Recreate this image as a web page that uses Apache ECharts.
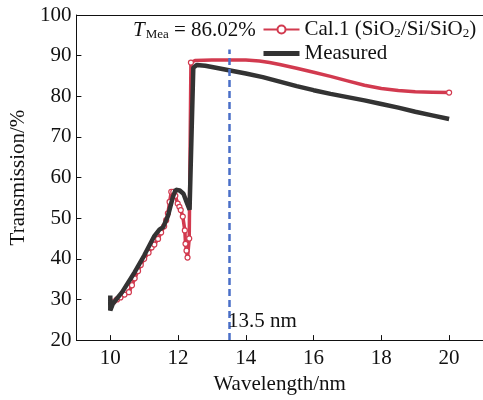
<!DOCTYPE html>
<html>
<head>
<meta charset="utf-8">
<script src="https://cdn.jsdelivr.net/npm/echarts@6/dist/echarts.min.js"></script>
<style>html,body{margin:0;padding:0;background:#fff;}#c{width:483px;height:400px;}</style>
</head>
<body>
<div id="c"></div>
<script>
// Measured series
var measuredX = [10, 10, 10.08, 10.35, 10.72, 11.0, 11.3, 11.45, 11.56, 11.7, 11.85, 11.93, 12.05, 12.16, 12.25, 12.34, 12.45, 12.55, 12.8, 13, 13.5, 14, 14.5, 15, 15.5, 16, 16.5, 17, 17.5, 18, 18.5, 19, 19.5, 20];
var measuredY = [31, 27.3, 29, 31.8, 36.7, 40.8, 45.6, 47.2, 47.8, 50.5, 55.3, 57, 56.8, 56, 54, 52.1, 87, 87.7, 87.5, 87.2, 86.4, 85.6, 84.7, 83.6, 82.5, 81.5, 80.6, 79.8, 79, 78.1, 77.2, 76.2, 75.3, 74.4];
// Cal.1 series
var calX = [10.1, 10.2, 10.3, 10.42, 10.55, 10.64, 10.72, 10.82, 10.9, 11.0, 11.13, 11.22, 11.3, 11.41, 11.5, 11.59, 11.65, 11.7, 11.75, 11.8, 11.86, 11.92, 11.99, 12.04, 12.08, 12.14, 12.2, 12.22, 12.25, 12.28, 12.33, 12.38, 12.5, 13, 13.5, 14, 14.4, 14.7, 15, 15.5, 16, 16.5, 17, 17.5, 18, 18.5, 19, 19.5, 20];
var calY = [29.5, 30.0, 30.5, 31.2, 31.8, 33.5, 35.2, 37.0, 38.5, 40.0, 41.5, 42.8, 43.5, 44.9, 46.5, 48.0, 49.5, 51.2, 54.0, 56.5, 56.5, 55.5, 53.6, 52.8, 52.0, 50.4, 47.0, 43.7, 42.0, 40.3, 45.0, 88.3, 88.8, 88.9, 88.9, 88.9, 88.7, 88.3, 87.8, 86.9, 85.9, 84.9, 83.8, 82.7, 81.9, 81.4, 81.1, 81.0, 80.9];
// wavelengths beyond which the Cal.1 circle markers merge into the line (only the last one is visible)
var calMarkerCutoff = 12.4;
// axes
var xTicks = [10, 12, 14, 16, 18, 20];
var markWavelength = 13.5;
var meanLabel = '86.02%';

function pairs(xs, ys) { return xs.map(function (x, i) { return [x, ys[i]]; }); }
function calData() {
  return calX.map(function (x, i) {
    var hide = x > calMarkerCutoff && i !== calX.length - 1;
    return hide ? { value: [x, calY[i]], symbol: 'none' } : { value: [x, calY[i]] };
  });
}

var FONT = '"Liberation Serif", "Times New Roman", serif';
var chart = echarts.init(document.getElementById('c'), null, { renderer: 'canvas' });
chart.setOption({
  animation: false,
  backgroundColor: '#fff',
  textStyle: { fontFamily: FONT, color: '#111' },
  grid: { left: 68, right: 0, top: 15, bottom: 54, containLabel: false },
  xAxis: [{
    type: 'value', min: 9, max: 21,
    name: 'Wavelength/nm', nameLocation: 'middle', nameGap: 32,
    nameTextStyle: { fontFamily: FONT, fontSize: 21, color: '#111' },
    axisLine: { show: true, onZero: false, lineStyle: { color: '#111', width: 1 } },
    axisTick: { show: true, inside: true, length: 5, customValues: xTicks, lineStyle: { color: '#111' } },
    axisLabel: { customValues: xTicks, fontFamily: FONT, fontSize: 21, color: '#111', margin: 8 },
    splitLine: { show: false }
  }, {
    type: 'value', min: 9, max: 21, position: 'top',
    axisLine: { show: true, onZero: false, lineStyle: { color: '#111', width: 1 } },
    axisTick: { show: false }, axisLabel: { show: false }, splitLine: { show: false }
  }],
  yAxis: {
    type: 'value', min: 20, max: 100, interval: 10,
    name: 'Transmission/%', nameLocation: 'middle', nameGap: 35,
    nameTextStyle: { fontFamily: FONT, fontSize: 21, color: '#111' },
    axisLine: { show: true, onZero: false, lineStyle: { color: '#111', width: 1 } },
    axisTick: { show: true, inside: true, length: 5, lineStyle: { color: '#111' } },
    axisLabel: { fontFamily: FONT, fontSize: 21, color: '#111', margin: 5 },
    splitLine: { show: false }
  },
  legend: {
    orient: 'vertical', left: 256, top: 14, itemGap: 3, itemWidth: 36, itemHeight: 10,
    data: [
      { name: 'Cal.1' },
      { name: 'Measured', itemStyle: { opacity: 0 }, lineStyle: { width: 5, color: '#333' } }
    ],
    formatter: function (n) { return n === 'Cal.1' ? 'Cal.1 (SiO{s|2}/Si/SiO{s|2})' : n; },
    textStyle: {
      fontFamily: FONT, fontSize: 21, color: '#111', lineHeight: 21, padding: [0, 0, 0, 0],
      rich: { s: { fontFamily: FONT, fontSize: 13, verticalAlign: 'bottom', lineHeight: 21, padding: [8, 0, 0, 0] } }
    }
  },
  graphic: [
    { type: 'text', left: 133, top: 20, z: 10, style: {
      text: '{t|T}{m|Mea}{v| = ' + meanLabel + '}',
      rich: {
        t: { fontFamily: FONT, fontStyle: 'italic', fontSize: 21, fill: '#111', lineHeight: 22 },
        m: { fontFamily: FONT, fontSize: 13, fill: '#111', lineHeight: 22, verticalAlign: 'bottom', padding: [8, 0, 0, 1] },
        v: { fontFamily: FONT, fontSize: 21, fill: '#111', lineHeight: 22 }
      }
    } },
    { type: 'text', left: 228, top: 311, z: 10, style: { text: markWavelength + ' nm', fontFamily: FONT, fontSize: 21, fill: '#111' } }
  ],
  series: [{
    name: 'Cal.1', type: 'line', data: calData(),
    symbol: 'circle', symbolSize: 5, showSymbol: true,
    lineStyle: { color: '#d23a4f', width: 3.5 },
    itemStyle: { color: '#fff', borderColor: '#d23a4f', borderWidth: 1.2 },
    z: 2
  }, {
    name: 'Measured', type: 'line', data: pairs(measuredX, measuredY),
    symbol: 'none', lineStyle: { color: '#333', width: 4.5 }, itemStyle: { color: '#333' },
    z: 3,
    markLine: {
      silent: true, symbol: ['none', 'none'], label: { show: false },
      lineStyle: { color: '#4a6fc8', type: [7, 4], width: 2.5 },
      data: [[{ coord: [markWavelength, 20] }, { coord: [markWavelength, 91.5] }]]
    }
  }]
});
</script>
</body>
</html>
